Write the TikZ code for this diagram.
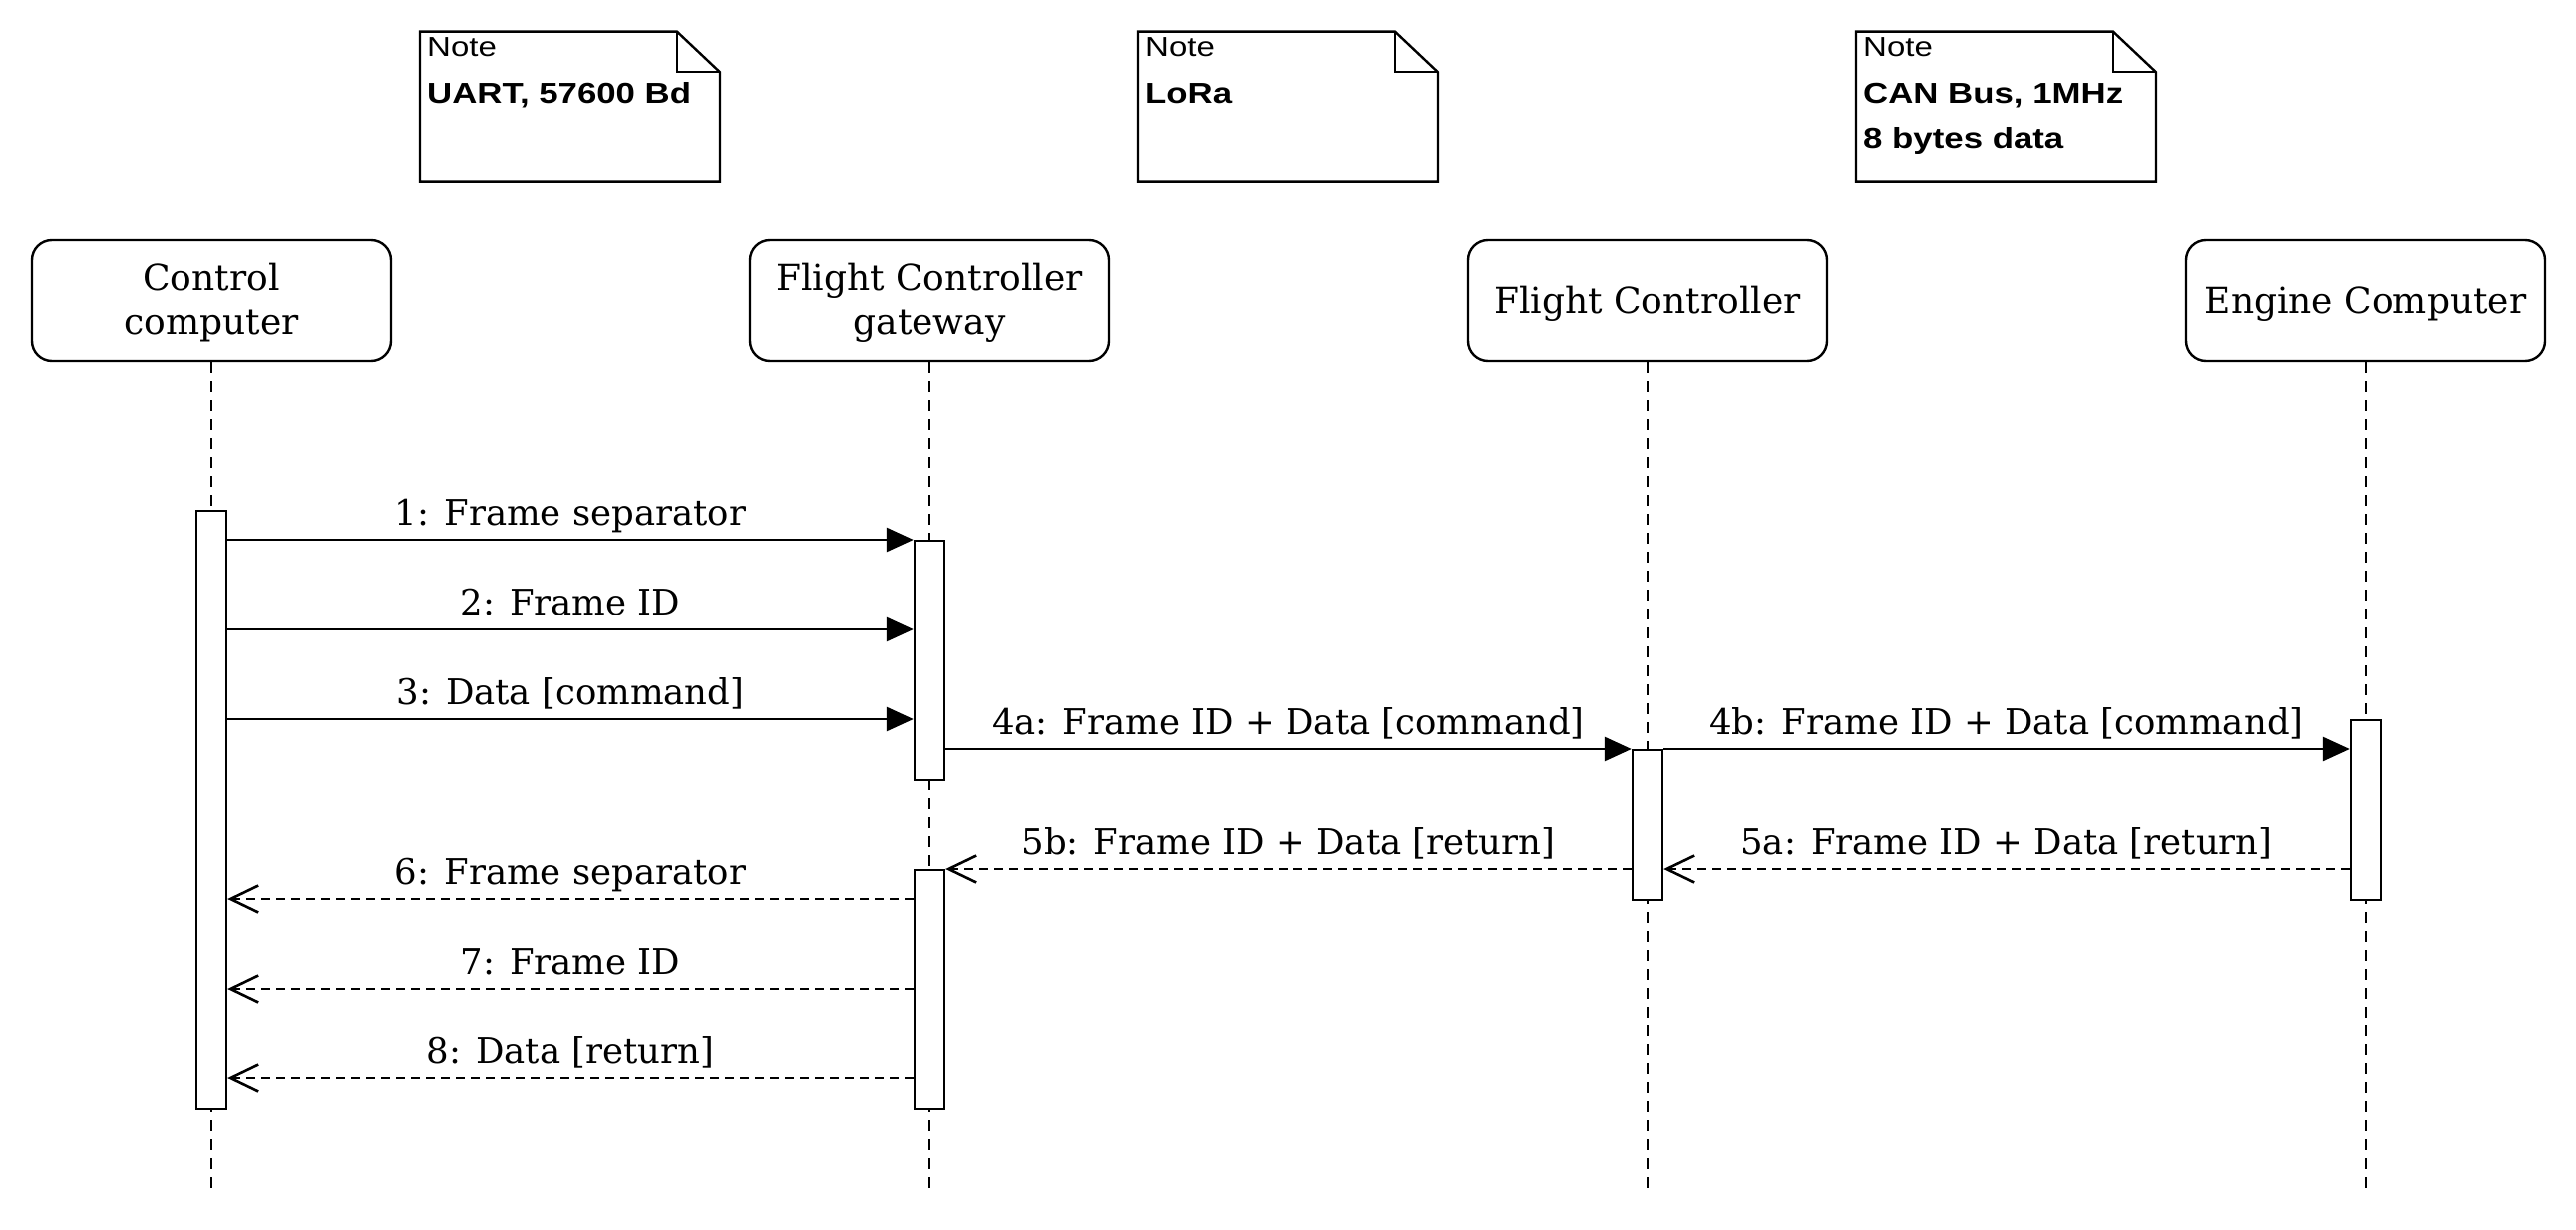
\documentclass[tikz,border=0pt]{standalone}
\usepackage{fontspec}
\newfontfamily\dvserif{DejaVu Serif}
\newfontfamily\notefont[FakeStretch=1.2]{Liberation Sans}
\usetikzlibrary{arrows.meta}
\tikzset{
  headbox/.style={draw, line width=2.4pt, rounded corners=20pt, fill=white, minimum width=360pt, minimum height=121pt, inner sep=0pt},
  headtxt/.style={anchor=base, inner sep=0pt, font=\dvserif\fontsize{36}{42}\selectfont},
  actbox/.style={draw, line width=2.4pt, fill=white, minimum width=30pt, inner sep=0pt, anchor=north},
  lifeln/.style={line width=2pt, dash pattern=on 11pt off 8pt},
  msg/.style={line width=2.8pt, -{Triangle[length=27pt, width=24pt]}},
  ret/.style={line width=2.8pt, dash pattern=on 9pt off 6pt, -{Straight Barb[length=28pt, width=27pt, line width=2.6pt]}},
  lbl/.style={anchor=base, inner sep=0pt, font=\dvserif\fontsize{35.5}{42}\selectfont},
  notehead/.style={anchor=base west, inner sep=0pt, font=\notefont\fontsize{27.5}{32}\selectfont},
  notetxt/.style={anchor=base west, inner sep=0pt, font=\notefont\bfseries\fontsize{29}{34}\selectfont},
  noteshape/.style={draw, line width=2.4pt, fill=white, line join=miter}
}
\begin{document}
\begin{tikzpicture}[x=1pt, y=-1pt]
\useasboundingbox (0,0) rectangle (2583,1233);
% notes
\foreach \nx in {421, 1141, 1861}{
  \draw[noteshape] (\nx,31.7) -- ++(258,0) -- ++(43,40.6) -- (\nx+301,181.7) -- (\nx,181.7) -- cycle;
  \draw[line width=2.4pt] (\nx+258,31.7) -- (\nx+258,72.3) -- (\nx+301,72.3);
}
\node[notehead] (na1) at (428,56.7) {Note};
\node[notetxt] (na2) at (428,103.3) {UART, 57600 Bd};
\node[notehead] (nb1) at (1148,56.7) {Note};
\node[notetxt] (nb2) at (1148,103.3) {LoRa};
\node[notehead] (nc1) at (1868,56.7) {Note};
\node[notetxt] (nc2) at (1868,103.3) {CAN Bus, 1MHz};
\node[notetxt] (nc3) at (1868,148.3) {8 bytes data};
% lifeline heads
\node[headbox] (L1) at (212,301.5) {};
\node[headbox] (L2) at (932,301.5) {};
\node[headbox] (L3) at (1652,301.5) {};
\node[headbox] (L4) at (2372,301.5) {};
\node[headtxt] (t1a) at (212,292) {Control};
\node[headtxt] (t1b) at (212,335) {computer};
\node[headtxt] (t2a) at (932,292) {Flight Controller};
\node[headtxt] (t2b) at (932,335) {gateway};
\node[headtxt] (t3) at (1652,315) {Flight Controller};
\node[headtxt] (t4) at (2372,315) {Engine Computer};
% lifeline ends
\coordinate (E1) at (212,1197);
\coordinate (E2) at (932,1197);
\coordinate (E3) at (1652,1197);
\coordinate (E4) at (2372,1197);
\draw[lifeln] (L1.south) -- (E1);
\draw[lifeln] (L2.south) -- (E2);
\draw[lifeln] (L3.south) -- (E3);
\draw[lifeln] (L4.south) -- (E4);
% activations
\node[actbox, minimum height=600pt] (A) at (212,511) {};
\node[actbox, minimum height=240pt] (B1) at (932,541) {};
\node[actbox, minimum height=240pt] (B2) at (932,871) {};
\node[actbox, minimum height=150pt] (C) at (1652,751) {};
\node[actbox, minimum height=180pt] (D) at (2372,721) {};
% messages
\draw[msg] (A.east |- 0,541) -- (B1.west |- 0,541);
\draw[msg] (A.east |- 0,631) -- (B1.west |- 0,631);
\draw[msg] (A.east |- 0,721) -- (B1.west |- 0,721);
\draw[msg] (B1.east |- 0,751) -- (C.west |- 0,751);
\draw[msg] (C.east |- 0,751) -- (D.west |- 0,751);
\draw[ret] (D.west |- 0,871) -- (C.east |- 0,871);
\draw[ret] (C.west |- 0,871) -- (B2.east |- 0,871);
\draw[ret] (B2.west |- 0,901) -- (A.east |- 0,901);
\draw[ret] (B2.west |- 0,991) -- (A.east |- 0,991);
\draw[ret] (B2.west |- 0,1081) -- (A.east |- 0,1081);
% labels
\node[lbl] (m1) at (572,526) {1: Frame separator};
\node[lbl] (m2) at (572,616) {2: Frame ID};
\node[lbl] (m3) at (572,706) {3: Data [command]};
\node[lbl] (m4a) at (1292,736) {4a: Frame ID + Data [command]};
\node[lbl] (m4b) at (2012,736) {4b: Frame ID + Data [command]};
\node[lbl] (m5a) at (2012,856) {5a: Frame ID + Data [return]};
\node[lbl] (m5b) at (1292,856) {5b: Frame ID + Data [return]};
\node[lbl] (m6) at (572,886) {6: Frame separator};
\node[lbl] (m7) at (572,976) {7: Frame ID};
\node[lbl] (m8) at (572,1066) {8: Data [return]};
\end{tikzpicture}
\end{document}
